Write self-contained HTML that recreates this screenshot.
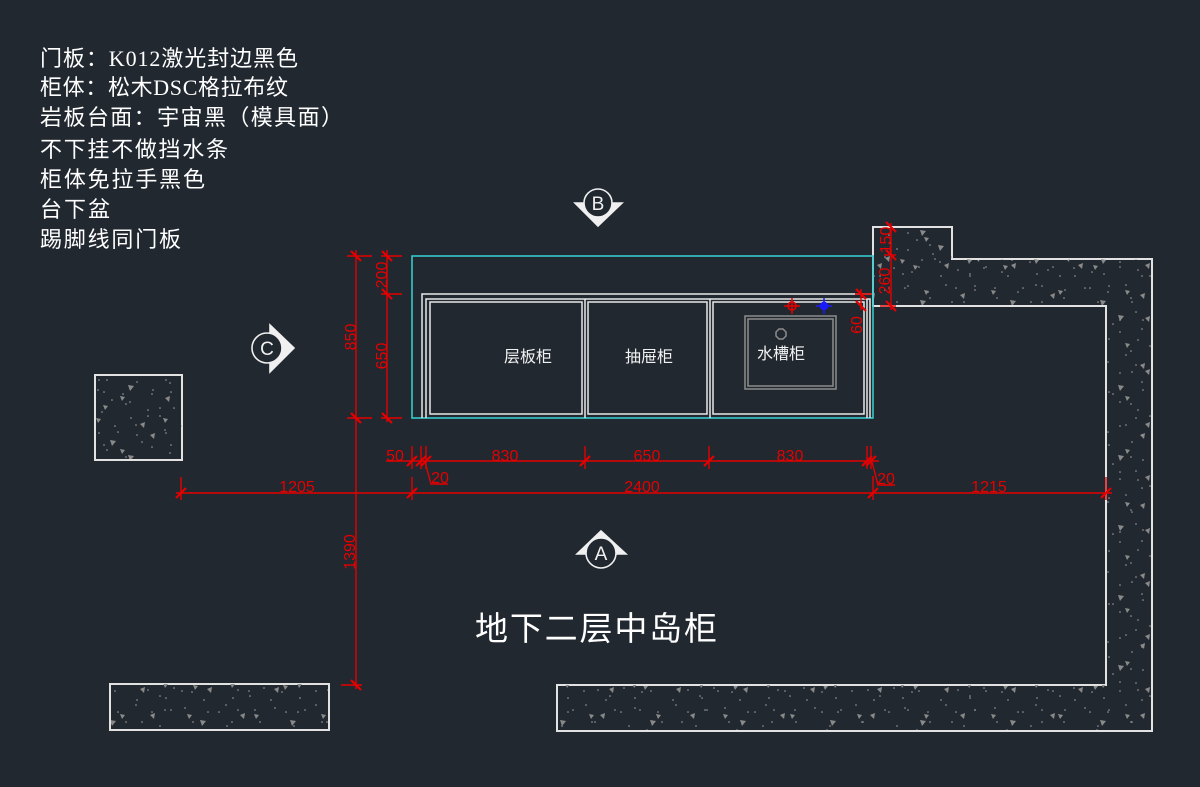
<!DOCTYPE html>
<html>
<head>
<meta charset="utf-8">
<style>
html,body{margin:0;padding:0;background:#212830;}
svg{display:block;}
</style>
</head>
<body>
<svg width="1200" height="787" viewBox="0 0 1200 787" xmlns="http://www.w3.org/2000/svg">
<defs>
<pattern id="h1" patternUnits="userSpaceOnUse" width="90" height="70">
<g fill="#a0a0a0">
<circle cx="5" cy="8" r="0.8"/><circle cx="17" cy="30" r="0.8"/><circle cx="28" cy="12" r="0.8"/>
<circle cx="40" cy="52" r="0.8"/><circle cx="52" cy="22" r="0.8"/><circle cx="63" cy="40" r="0.8"/>
<circle cx="75" cy="10" r="0.8"/><circle cx="84" cy="58" r="0.8"/><circle cx="12" cy="62" r="0.8"/>
<circle cx="33" cy="44" r="0.8"/><circle cx="70" cy="66" r="0.8"/><circle cx="46" cy="5" r="0.8"/>
<circle cx="22" cy="50" r="0.8"/><circle cx="58" cy="60" r="0.8"/><circle cx="80" cy="33" r="0.8"/>
<circle cx="8" cy="40" r="0.8"/>
</g>
<g fill="#8a8a8a">
<polygon points="20,20 26,21 22,26"/><polygon points="60,15 65,13 64,19"/>
<polygon points="38,35 44,36 40,41"/><polygon points="75,48 80,46 79,52"/>
<polygon points="13,55 18,56 15,60"/>
</g>
</pattern>
<pattern id="h2" patternUnits="userSpaceOnUse" width="67" height="53" x="23" y="17">
<g fill="#a0a0a0">
<circle cx="3" cy="20" r="0.8"/><circle cx="14" cy="4" r="0.8"/><circle cx="25" cy="38" r="0.8"/>
<circle cx="36" cy="16" r="0.8"/><circle cx="47" cy="47" r="0.8"/><circle cx="58" cy="28" r="0.8"/>
<circle cx="62" cy="6" r="0.8"/><circle cx="9" cy="45" r="0.8"/><circle cx="41" cy="30" r="0.8"/>
</g>
<g fill="#8a8a8a">
<polygon points="30,8 35,9 32,13"/><polygon points="50,36 55,34 54,40"/>
<polygon points="6,30 11,31 8,35"/>
</g>
</pattern>
</defs>

<!-- Walls -->
<g stroke="#e2e2e2" stroke-width="2">
<path d="M873,227 H952 V259 H1152 V731 H557 V685 H1106 V306 H873 Z" fill="url(#h1)"/>
<path d="M873,227 H952 V259 H1152 V731 H557 V685 H1106 V306 H873 Z" fill="url(#h2)" stroke="none"/>
<rect x="95" y="375" width="87" height="85" fill="url(#h1)"/>
<rect x="95" y="375" width="87" height="85" fill="url(#h2)" stroke="none"/>
<rect x="110" y="684" width="219" height="46" fill="url(#h1)"/>
<rect x="110" y="684" width="219" height="46" fill="url(#h2)" stroke="none"/>
</g>

<!-- Countertop cyan -->
<rect x="412" y="256" width="461" height="162" fill="none" stroke="#35c8cc" stroke-width="1.6"/>

<!-- Cabinets -->
<g fill="none" stroke="#e8e8e8" stroke-width="1.5">
<path d="M422,418 V294 H872"/>
<path d="M426,418 V299 H870 V418"/>
<rect x="430" y="302" width="152" height="112"/>
<rect x="588" y="302" width="119" height="112"/>
<rect x="713" y="302" width="151" height="112"/>
<line x1="585" y1="299" x2="585" y2="418"/>
<line x1="710" y1="299" x2="710" y2="418"/>
<line x1="867" y1="299" x2="867" y2="418"/>
</g>
<!-- Sink -->
<g fill="none" stroke="#8c8c8c" stroke-width="1.5">
<rect x="745" y="316" width="91" height="73"/>
<rect x="748" y="319" width="85" height="67"/>
<polygon points="779,329 783,329 786,332 786,336 783,339 779,339 776,336 776,332"/>
</g>

<g font-family="'Liberation Sans','Noto Sans CJK SC',sans-serif" font-size="16" fill="#f2f2f2" text-anchor="middle">
<text x="528" y="362">层板柜</text>
<text x="649" y="362">抽屉柜</text>
<text x="781" y="359">水槽柜</text>
</g>

<!-- crosshairs -->
<g stroke="#e60000" stroke-width="1.5" fill="none">
<circle cx="792" cy="306" r="4"/>
<line x1="784" y1="306" x2="800" y2="306"/><line x1="792" y1="298" x2="792" y2="314"/>
</g>
<g stroke="#1a1aff" stroke-width="1.5" fill="#1a1aff">
<circle cx="824" cy="306" r="3.5"/>
<line x1="816" y1="306" x2="832" y2="306"/><line x1="824" y1="298" x2="824" y2="314"/>
</g>

<!-- Dimensions -->
<g stroke="#e60000" stroke-width="1.4" fill="none">
<line x1="356" y1="250" x2="356" y2="689"/>
<line x1="347" y1="256" x2="372" y2="256"/>
<line x1="347" y1="418" x2="372" y2="418"/>
<line x1="341" y1="685" x2="362" y2="685"/>
<line x1="387" y1="250" x2="387" y2="422"/>
<line x1="381" y1="256" x2="402" y2="256"/>
<line x1="381" y1="294" x2="402" y2="294"/>
<line x1="381" y1="418" x2="402" y2="418"/>
<line x1="386" y1="461" x2="879" y2="461"/>
<line x1="412" y1="446" x2="412" y2="469"/>
<line x1="421" y1="446" x2="421" y2="469"/>
<line x1="426" y1="446" x2="426" y2="469"/>
<line x1="585" y1="446" x2="585" y2="469"/>
<line x1="709" y1="446" x2="709" y2="469"/>
<line x1="867" y1="446" x2="867" y2="469"/>
<line x1="871" y1="446" x2="871" y2="469"/>
<polyline points="425,462 431,484 448,484"/>
<polyline points="872,462 878,485 895,485"/>
<line x1="176" y1="493" x2="1112" y2="493"/>
<line x1="181" y1="477" x2="181" y2="500"/>
<line x1="412" y1="477" x2="412" y2="500"/>
<line x1="873" y1="476" x2="873" y2="500"/>
<line x1="1106" y1="477" x2="1106" y2="500"/>
<line x1="891" y1="223" x2="891" y2="310"/>
<line x1="880" y1="306" x2="896" y2="306"/>
<line x1="884" y1="255" x2="896" y2="255"/>
<line x1="861" y1="289" x2="861" y2="310"/>
<line x1="855" y1="294" x2="872" y2="294"/>
</g>
<!-- ticks -->
<g stroke="#e60000" stroke-width="2.2">
<line x1="351" y1="251" x2="361" y2="261"/>
<line x1="351" y1="413" x2="361" y2="423"/>
<line x1="351" y1="680" x2="361" y2="690"/>
<line x1="382" y1="251" x2="392" y2="261"/>
<line x1="382" y1="289" x2="392" y2="299"/>
<line x1="382" y1="413" x2="392" y2="423"/>
<line x1="886" y1="222" x2="896" y2="232"/>
<line x1="886" y1="250" x2="896" y2="260"/>
<line x1="886" y1="301" x2="896" y2="311"/>
<line x1="856" y1="289" x2="866" y2="299"/>
<line x1="856" y1="301" x2="866" y2="311"/>
<line x1="407" y1="466" x2="417" y2="456"/>
<line x1="416" y1="466" x2="426" y2="456"/>
<line x1="421" y1="466" x2="431" y2="456"/>
<line x1="580" y1="466" x2="590" y2="456"/>
<line x1="704" y1="466" x2="714" y2="456"/>
<line x1="862" y1="466" x2="872" y2="456"/>
<line x1="866" y1="466" x2="876" y2="456"/>
<line x1="176" y1="498" x2="186" y2="488"/>
<line x1="407" y1="498" x2="417" y2="488"/>
<line x1="868" y1="498" x2="878" y2="488"/>
<line x1="1101" y1="498" x2="1111" y2="488"/>
</g>

<g font-family="'Liberation Sans',sans-serif" font-size="16" fill="#e60000" text-anchor="middle">
<text x="395" y="461">50</text>
<text x="505" y="461">830</text>
<text x="647" y="461">650</text>
<text x="790" y="461">830</text>
<text x="440" y="483">20</text>
<text x="886" y="484">20</text>
<text x="297" y="492">1205</text>
<text x="642" y="492">2400</text>
<text x="989" y="492">1215</text>
<text transform="translate(350,337) rotate(-90)" x="0" y="5.8">850</text>
<text transform="translate(381,275) rotate(-90)" x="0" y="5.8">200</text>
<text transform="translate(381,356) rotate(-90)" x="0" y="5.8">650</text>
<text transform="translate(349,552) rotate(-90)" x="0" y="5.8">1390</text>
<text transform="translate(885,240) rotate(-90)" x="0" y="5.8">150</text>
<text transform="translate(884,281) rotate(-90)" x="0" y="5.8">260</text>
<text transform="translate(856,325) rotate(-90)" x="0" y="5.8">60</text>
</g>

<!-- Section markers -->
<g stroke="#f0f0f0" stroke-width="1.6">
<polygon points="575,203 622,203 598,226" fill="#f0f0f0"/>
<circle cx="598" cy="203" r="14" fill="#212830"/>
<polygon points="270,325 270,372 294,348" fill="#f0f0f0"/>
<circle cx="267" cy="348" r="15" fill="#212830"/>
<polygon points="577,554 626,554 601,531" fill="#f0f0f0"/>
<circle cx="601" cy="553" r="15" fill="#212830"/>
</g>
<g font-family="'Liberation Sans',sans-serif" font-size="19" fill="#f0f0f0" text-anchor="middle">
<text x="598" y="210">B</text>
<text x="267" y="355">C</text>
<text x="601" y="560">A</text>
</g>

<!-- Notes -->
<g font-family="'Liberation Serif','Noto Sans CJK SC',sans-serif" font-size="22" fill="#ffffff">
<text x="40" y="66" textLength="258" lengthAdjust="spacing">门板：K012激光封边黑色</text>
<text x="40" y="95" textLength="248" lengthAdjust="spacing">柜体：松木DSC格拉布纹</text>
<text x="40" y="125" textLength="303" lengthAdjust="spacing">岩板台面：宇宙黑（模具面）</text>
<text x="40" y="157" textLength="188" lengthAdjust="spacing">不下挂不做挡水条</text>
<text x="40" y="187" textLength="165" lengthAdjust="spacing">柜体免拉手黑色</text>
<text x="40" y="217" textLength="70" lengthAdjust="spacing">台下盆</text>
<text x="40" y="247" textLength="141" lengthAdjust="spacing">踢脚线同门板</text>
</g>

<!-- Title -->
<text x="475" y="640" font-family="'Liberation Sans','Noto Sans CJK SC',sans-serif" font-size="33" fill="#ffffff" textLength="242" lengthAdjust="spacing">地下二层中岛柜</text>
</svg>
</body>
</html>
